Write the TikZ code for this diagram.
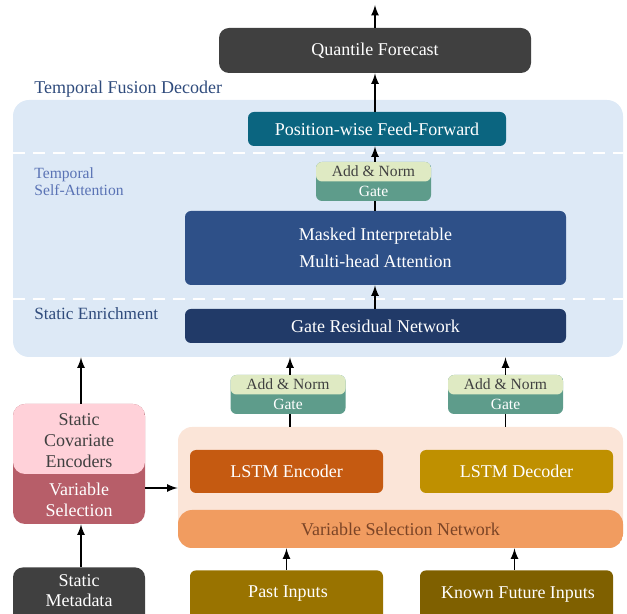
\documentclass[tikz,border=0pt]{standalone}
\usepackage{fontspec}
\setmainfont{Liberation Serif}
\newfontfamily\timesfont{Liberation Serif}
\usepackage{xcolor}
\definecolor{darkbox}{HTML}{404040}
\definecolor{panelblue}{HTML}{DDE9F6}
\definecolor{labelblue}{HTML}{2F4B7C}
\definecolor{lightlabel}{HTML}{5A73B5}
\definecolor{pffcol}{HTML}{0B6580}
\definecolor{mimacol}{HTML}{2E5088}
\definecolor{grncol}{HTML}{213A68}
\definecolor{addcol}{HTML}{DFEAC3}
\definecolor{gatecol}{HTML}{5E9C8B}
\definecolor{peach}{HTML}{FBE5D8}
\definecolor{vsncol}{HTML}{F19C60}
\definecolor{vsntext}{HTML}{7B4426}
\definecolor{enccol}{HTML}{C55A11}
\definecolor{deccol}{HTML}{BF9000}
\definecolor{pinkcol}{HTML}{FFD1D9}
\definecolor{varselcol}{HTML}{B75E69}
\definecolor{pastcol}{HTML}{997300}
\definecolor{futurecol}{HTML}{7F6000}

\begin{document}
\begin{tikzpicture}[x=0.5pt,y=-0.5pt,
  block/.style={rectangle, rounded corners=3pt, draw=none, text=white, align=center, font=\timesfont\fontsize{9}{11}\selectfont},
  addgate/.style={rectangle, rounded corners=3pt, fill=gatecol, minimum width=57.5pt, minimum height=19.5pt,
    path picture={\fill[addcol] (path picture bounding box.north west) rectangle (path picture bounding box.east);}},
  small/.style={font=\timesfont\fontsize{7.8}{8.5}\selectfont, inner sep=0pt},
  sep/.style={white, line width=1.3pt, dash pattern=on 6pt off 4pt},
  arr/.style={->, >=latex, line width=0.8pt}]
\clip (0,0) rectangle (627,614);
%%%%%%%%%%%%%%%%%%%
\node[block, fill=panelblue, rounded corners=8pt, minimum width=305pt, minimum height=128.5pt] (tfd) at (318,228.5) {};
\node[block, rounded corners=7pt, minimum width=222.5pt, minimum height=60.5pt, fill=peach,
  path picture={\fill[vsncol] (path picture bounding box.south west) rectangle ([yshift=-11.25pt]path picture bounding box.east);}] (vsnpanel) at (400.5,487.5) {};
\draw[sep] (13,153) -- (623,153);
\draw[sep] (13,299) -- (623,299);

%%%%%%%%%%%%%%%%%%%
\node[block, fill=darkbox, minimum width=156pt, minimum height=22.5pt, rounded corners=5pt] (qf) at (375,50.5) {Quantile Forecast};
\node[block, fill=pffcol, minimum width=129pt, minimum height=17pt] (pff) at (377,129) {Position-wise Feed-Forward};
\node[block, fill=mimacol, minimum width=190.5pt, minimum height=37pt, font=\timesfont\fontsize{9}{13.5}\selectfont] (mima) at (375.5,248) {Masked Interpretable\\Multi-head Attention};
\node[block, fill=grncol, minimum width=190.5pt, minimum height=17pt] (grn) at (375.5,326) {Gate Residual Network};
\node[block, fill=enccol, minimum width=96.5pt, minimum height=21.5pt] (enc) at (286.5,471.5) {LSTM Encoder};
\node[block, fill=deccol, minimum width=96.5pt, minimum height=21.5pt] (dec) at (516.5,471.5) {LSTM Decoder};
\node[block, fill=pastcol, minimum width=96.5pt, minimum height=30pt, anchor=north] (past) at (286.5,570) {};
\node[block, fill=futurecol, minimum width=96.5pt, minimum height=30pt, anchor=north] (future) at (516.5,570) {};
\node[block, fill=darkbox, minimum width=66pt, minimum height=33pt, rounded corners=5pt, anchor=north] (meta) at (79,567) {};
\node[block, minimum width=66pt, minimum height=60pt, rounded corners=6pt, fill=varselcol,
  path picture={\fill[pinkcol] (path picture bounding box.north west) rectangle ([yshift=-5pt]path picture bounding box.east);}] (sce) at (79,464) {};
\node[addgate] (gate3) at (373.5,181.5) {};
\node[addgate] (gate1) at (288,394.5) {};
\node[addgate] (gate2) at (505.5,394.5) {};

%%%%%%%%%%%%%%%%%%%
\node[small, text=darkbox] (an3) at (373.5,171.5) {Add \& Norm};
\node[small, text=white] (gt3) at (373.5,191.5) {Gate};
\node[small, text=darkbox] (an1) at (288,384.5) {Add \& Norm};
\node[small, text=white] (gt1) at (288,404.5) {Gate};
\node[small, text=darkbox] (an2) at (505.5,384.5) {Add \& Norm};
\node[small, text=white] (gt2) at (505.5,404.5) {Gate};
\node[block, text=darkbox, font=\timesfont\fontsize{9}{10.5}\selectfont] (scetxt) at (79,441) {Static\\Covariate\\Encoders};
\node[block, font=\timesfont\fontsize{9}{10.5}\selectfont] (vstxt) at (79,500) {Variable\\Selection};
\node[block, font=\timesfont\fontsize{9}{10}\selectfont] (metatxt) at (79,591) {Static\\Metadata};
\node[block] (pasttxt) at (288,594) {Past Inputs};
\node[block] (futuretxt) at (518,595) {Known Future Inputs};
\node[block, text=vsntext] (vsntxt) at (400.5,529) {Variable Selection Network};
\node[anchor=west, inner sep=0pt, text=labelblue, font=\timesfont\fontsize{9}{11}\selectfont] (tfdlabel) at (34,89) {Temporal Fusion Decoder};
\node[anchor=west, inner sep=0pt, align=left, text=lightlabel, font=\timesfont\fontsize{7.8}{8.5}\selectfont] (tsalabel) at (34,181.5) {Temporal\\Self-Attention};
\node[anchor=west, inner sep=0pt, text=labelblue, font=\timesfont\fontsize{8.6}{10}\selectfont] (selabel) at (34,314) {Static Enrichment};

%%%%%%%%%%%%%%%%%%%
\coordinate (out) at (375,5);
\draw[arr] (qf.north) -- (out);
\draw[arr] (pff.north -| qf.north) -- (qf.south);
\draw[arr] (gate3.north -| qf.north) -- (pff.south -| qf.north);
\draw[line width=0.8pt] (mima.north -| qf.north) -- (gate3.south -| qf.north);
\draw[arr] (grn.north -| qf.north) -- (mima.south -| qf.north);
\draw[arr] ([xshift=1pt]gate1.north) -- ([xshift=1pt]gate1.north |- tfd.south);
\draw[arr] (gate2.north) -- (gate2.north |- tfd.south);
\draw[line width=0.8pt] ([xshift=1pt]gate1.south) -- ([xshift=1pt]gate1.south |- vsnpanel.north);
\draw[line width=0.8pt] (gate2.south) -- (gate2.south |- vsnpanel.north);
\draw[arr] ([xshift=1pt]sce.north) -- ([xshift=1pt]sce.north |- tfd.south);
\draw[arr] ([yshift=-12pt]sce.east) -- ([yshift=-12pt]sce.east -| vsnpanel.west);
\draw[arr] ([xshift=1pt]meta.north) -- ([xshift=1pt]sce.south);
\draw[arr] (past.north) -- (past.north |- vsnpanel.south);
\draw[arr] ([xshift=-1pt]future.north) -- ([xshift=-1pt]future.north |- vsnpanel.south);
\end{tikzpicture}
\end{document}
